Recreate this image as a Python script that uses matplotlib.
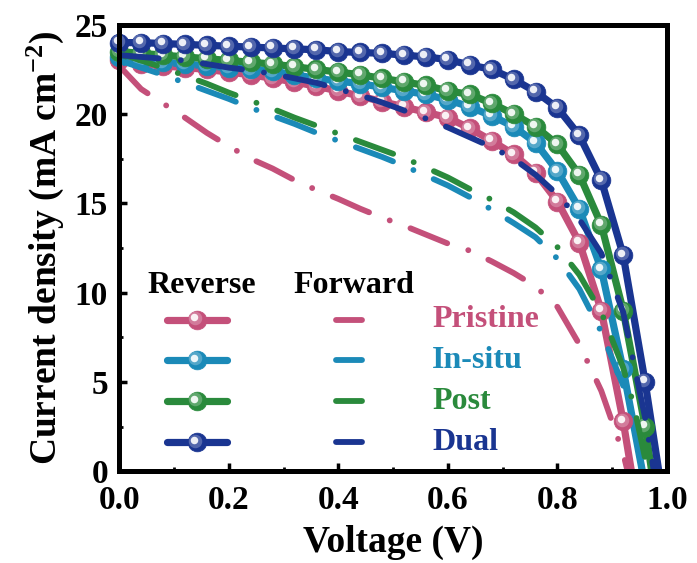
import matplotlib
matplotlib.use('Agg')
import matplotlib.pyplot as plt
from matplotlib.ticker import MultipleLocator, FormatStrFormatter
from matplotlib.transforms import offset_copy

plt.rcParams['font.family'] = 'Liberation Serif'
plt.rcParams['font.weight'] = 'bold'
plt.rcParams['axes.labelweight'] = 'bold'
plt.rcParams['mathtext.fontset'] = 'custom'
plt.rcParams['mathtext.rm'] = 'Liberation Serif:bold'
plt.rcParams['mathtext.bf'] = 'Liberation Serif:bold'
plt.rcParams['mathtext.default'] = 'bf'

# shared voltage grid (V)
volt = [0.00, 0.04, 0.08, 0.12, 0.16, 0.20, 0.24, 0.28, 0.32, 0.36, 0.40, 0.44,
        0.48, 0.52, 0.56, 0.60, 0.64, 0.68, 0.72, 0.76, 0.80, 0.84, 0.88, 0.92]

# reverse scans (mA cm-2)
rev_pristine = [23.0, 22.8, 22.7, 22.6, 22.5, 22.35, 22.2, 22.0, 21.8, 21.55, 21.3, 21.0,
                20.7, 20.4, 20.1, 19.8, 19.2, 18.5, 17.75, 16.7, 15.1, 12.8, 9.0, 2.8]
rev_insitu = [23.2, 23.0, 22.9, 22.8, 22.7, 22.6, 22.5, 22.4, 22.2, 22.0, 21.85, 21.7,
              21.5, 21.3, 21.1, 20.8, 20.4, 19.9, 19.3, 18.4, 16.8, 14.7, 11.3, 5.7]
rev_post = [23.5, 23.4, 23.3, 23.2, 23.1, 23.0, 22.9, 22.8, 22.65, 22.5, 22.35, 22.2,
            22.0, 21.8, 21.6, 21.3, 21.1, 20.6, 20.0, 19.3, 18.3, 16.6, 13.8, 9.0]
rev_dual = [24.0, 24.0, 23.95, 23.9, 23.85, 23.8, 23.75, 23.7, 23.65, 23.6, 23.5, 23.45,
            23.4, 23.3, 23.2, 23.05, 22.75, 22.5, 21.95, 21.25, 20.35, 18.8, 16.3, 12.1]
rev_tail_v = [[0.935], [0.955], [0.96, 0.972], [0.96, 0.985]]
rev_tail_j = [[0.0], [0.0], [2.5, 0.0], [5.0, 0.0]]

# forward scans (mA cm-2)
fwd_pristine = [22.7, 21.4, 20.6, 19.8, 18.95, 18.2, 17.5, 16.95, 16.3, 15.75, 15.25, 14.7,
                14.2, 13.75, 13.25, 12.75, 12.35, 11.75, 11.1, 10.35, 9.2, 7.1, 4.5, 1.0]
fwd_insitu = [23.0, 22.6, 22.2, 21.75, 21.3, 20.85, 20.35, 19.9, 19.45, 18.95, 18.5, 18.05,
              17.6, 17.1, 16.55, 16.0, 15.35, 14.65, 13.9, 13.1, 11.9, 10.2, 7.8, 4.8]
fwd_post = [23.4, 23.0, 22.6, 22.15, 21.7, 21.2, 20.75, 20.3, 19.8, 19.35, 18.9, 18.45,
            18.0, 17.55, 17.0, 16.45, 15.8, 15.2, 14.5, 13.65, 12.55, 11.0, 8.9, 5.8]
fwd_dual = [23.3, 23.2, 23.1, 23.0, 22.8, 22.6, 22.45, 22.25, 22.0, 21.75, 21.4, 21.05,
            20.65, 20.2, 19.75, 19.25, 18.7, 18.15, 17.5, 16.6, 15.5, 14.1, 12.2, 8.9]
fwd_tail_v = [[0.928], [0.935, 0.955], [0.94, 0.965], [0.96, 0.976]]
fwd_tail_j = [[0.0], [3.4, 0.0], [3.6, 0.0], [3.0, 0.0]]

labels = ['Pristine', 'In-situ', 'Post', 'Dual']
colors = ['#c4507a', '#1b8ab8', '#2a8a3c', '#1a3591']
rev_all = [rev_pristine, rev_insitu, rev_post, rev_dual]
fwd_all = [fwd_pristine, fwd_insitu, fwd_post, fwd_dual]

fig = plt.figure(figsize=(6.97, 5.63), dpi=100)
ax = fig.add_axes([0.171, 0.163, 0.786, 0.793])

MS = 13.5


def spheres(x, y, color, trans, ms=MS, z=3):
    ax.plot(x, y, 'o', ms=ms, mfc=color, mec=color, mew=0.5, transform=trans,
            zorder=z, clip_on=False)
    t1 = offset_copy(trans, fig=fig, x=-1.2, y=1.2, units='points')
    t2 = offset_copy(trans, fig=fig, x=-1.8, y=1.8, units='points')
    ax.plot(x, y, 'o', ms=ms * 0.72, mfc='white', mec='none', alpha=0.25,
            transform=t1, zorder=z + 0.1, clip_on=False)
    ax.plot(x, y, 'o', ms=ms * 0.4, mfc='white', mec='none', alpha=0.9,
            transform=t2, zorder=z + 0.2, clip_on=False)


# reverse scans: solid line + shaded sphere markers
for i in range(4):
    v = volt + rev_tail_v[i]
    j = rev_all[i] + rev_tail_j[i]
    ax.plot(v, j, '-', color=colors[i], lw=5.2, solid_capstyle='round', zorder=2 + i * 0.01)
    mv = [a for a, b in zip(v, j) if b > 0]
    mj = [b for b in j if b > 0]
    spheres(mv, mj, colors[i], ax.transData, z=3 + i * 0.5)

# forward scans: dash-dot
for i in range(4):
    v = volt + fwd_tail_v[i]
    j = fwd_all[i] + fwd_tail_j[i]
    ax.plot(v, j, color=colors[i], lw=4.2, linestyle=(0, (6.8, 3.8, 0.01, 3.8)),
            dash_capstyle='round', zorder=6)

ax.set_xlim(0, 1.0)
ax.set_ylim(0, 25)
ax.xaxis.set_major_locator(MultipleLocator(0.2))
ax.xaxis.set_minor_locator(MultipleLocator(0.1))
ax.yaxis.set_major_locator(MultipleLocator(5))
ax.yaxis.set_minor_locator(MultipleLocator(2.5))
ax.xaxis.set_major_formatter(FormatStrFormatter('%.1f'))
ax.tick_params(which='major', direction='in', length=6, width=2.5, labelsize=24, pad=8)
ax.tick_params(axis='x', which='major', pad=10)
ax.tick_params(which='minor', direction='in', length=3, width=2)
ax.tick_params(top=False, right=False, which='both')
for s in ax.spines.values():
    s.set_linewidth(3.6)
    s.set_zorder(10)

ax.set_xlabel('Voltage (V)', fontsize=27, labelpad=6)
ax.set_ylabel('Current density (mA cm$^{-2}$)', fontsize=27, labelpad=6)

# legend drawn by hand
ta = ax.transAxes
ax.text(0.150, 0.416, 'Reverse', transform=ta, fontsize=23, ha='center', va='center')
ax.text(0.428, 0.416, 'Forward', transform=ta, fontsize=23, ha='center', va='center')
rows = [0.339, 0.249, 0.157, 0.065]
for i in range(4):
    y = rows[i]
    ax.plot([0.088, 0.197], [y, y], color=colors[i], lw=5.2, solid_capstyle='round',
            transform=ta, zorder=8)
    spheres([0.142], [y], colors[i], ta, z=9)
    ax.plot([0.395, 0.443], [y, y], color=colors[i], lw=4.2, solid_capstyle='round',
            transform=ta, zorder=8)
    ax.text(0.571, y, labels[i], color=colors[i], transform=ta, fontsize=23,
            ha='left', va='center')

fig.savefig('out.png', dpi=100)
